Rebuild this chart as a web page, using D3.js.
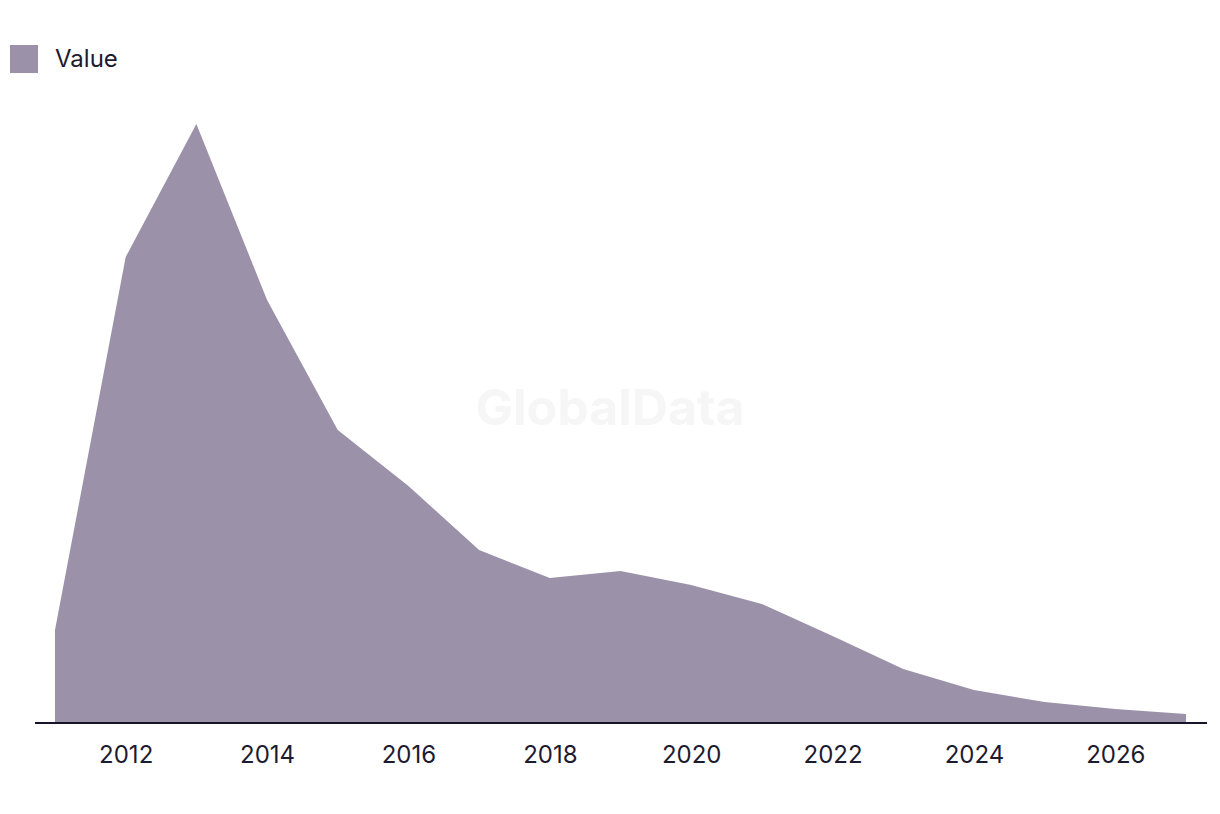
<!DOCTYPE html>
<html>
<head>
<meta charset="utf-8">
<script src="https://cdn.jsdelivr.net/npm/d3@7"></script>
<style>
  body { margin: 0; background: #fff; }
  text { font-family: Inter, "Noto Sans", sans-serif; }
</style>
</head>
<body>
<div id="chart"></div>
<script>
// data (arbitrary units, no y axis shown)
const years = [2011, 2012, 2013, 2014, 2015, 2016, 2017, 2018, 2019, 2020, 2021, 2022, 2023, 2024, 2025, 2026, 2027];
const values = [93, 466, 599, 423, 293, 237, 173, 145, 152, 138, 119, 87, 54, 33, 21, 14, 9];
const tickYears = [2012, 2014, 2016, 2018, 2020, 2022, 2024, 2026];
const seriesName = "Value";

const width = 1220, height = 814;
const baseY = 723;

const svg = d3.select("#chart")
  .append("svg")
  .attr("width", width)
  .attr("height", height);

const x = d3.scaleLinear().domain([2011, 2027]).range([55, 1186]);
const y = d3.scaleLinear().domain([0, 599]).range([baseY, 124]);

// watermark
svg.append("text")
  .attr("x", 610)
  .attr("y", 425)
  .attr("text-anchor", "middle")
  .attr("font-size", 50)
  .attr("font-weight", 700)
  .attr("fill", "#f6f6f6")
  .text("GlobalData");

const area = d3.area()
  .x((d, i) => x(years[i]))
  .y0(y(0))
  .y1((d) => y(d));

svg.append("path")
  .datum(values)
  .attr("d", area)
  .attr("fill", "#9b92aa");

// x axis: plain baseline + labels
svg.append("line")
  .attr("x1", 35).attr("x2", 1207)
  .attr("y1", baseY).attr("y2", baseY)
  .attr("stroke", "#16142a")
  .attr("stroke-width", 2);

const xAxis = d3.axisBottom(x)
  .tickValues(tickYears)
  .tickFormat(d3.format("d"))
  .tickSize(0)
  .tickPadding(23);

svg.append("g")
  .attr("transform", `translate(0,${baseY})`)
  .call(xAxis)
  .call((g) => g.select(".domain").remove())
  .call((g) => g.selectAll("text")
    .attr("font-size", 24)
    .attr("fill", "#1c1b30")
    .style("font-family", "Inter, 'Noto Sans', sans-serif"));

// legend
const legend = svg.append("g").attr("transform", "translate(10,45)");
legend.append("rect")
  .attr("width", 28).attr("height", 28)
  .attr("fill", "#9b92aa");
legend.append("text")
  .attr("x", 45)
  .attr("y", 22)
  .attr("font-size", 24)
  .attr("fill", "#1c1b30")
  .text(seriesName);
</script>
</body>
</html>
